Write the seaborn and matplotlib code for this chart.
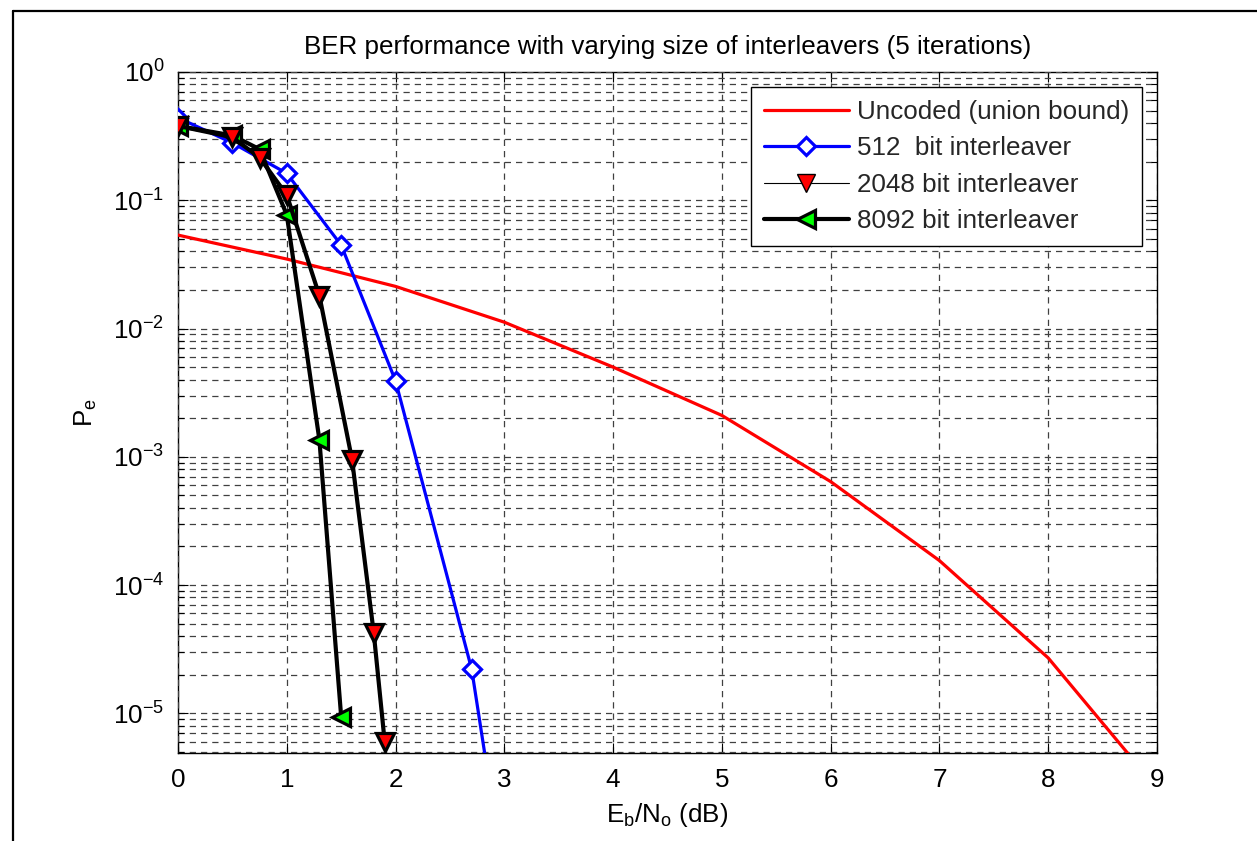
import numpy as np
import matplotlib
matplotlib.use("Agg")
import matplotlib.pyplot as plt
import seaborn as sns
from matplotlib.lines import Line2D
from matplotlib.ticker import LogLocator, NullLocator, NullFormatter, FixedLocator, FuncFormatter

# ---------------- data ----------------
ebno_uncoded = [0, 1, 2, 3, 4, 5, 6, 7, 8, 9]
pe_uncoded = [0.0535, 0.0348, 0.0213, 0.0112, 0.0050, 0.0021, 6.4e-4, 1.55e-4, 2.7e-5, 2.6e-6]

ebno_512 = [0, 0.5, 1.0, 1.5, 2.0, 2.7, 3.0]
pe_512 = [0.44, 0.28, 0.162, 0.0447, 0.0039, 2.2e-5, 5e-7]

ebno_2048 = [0, 0.5, 0.75, 1.0, 1.3, 1.6, 1.8, 1.9]
pe_2048 = [0.38, 0.31, 0.215, 0.11, 0.018, 9.5e-4, 4.2e-5, 6.0e-6]

ebno_8092 = [0, 0.5, 0.75, 1.0, 1.3, 1.5]
pe_8092 = [0.38, 0.32, 0.25, 0.077, 1.35e-3, 9.4e-6]

labels = ["Uncoded (union bound)", "512  bit interleaver",
          "2048 bit interleaver", "8092 bit interleaver"]
title = "BER performance with varying size of interleavers (5 iterations)"
xticks = [0, 1, 2, 3, 4, 5, 6, 7, 8, 9]

# ---------------- style ----------------
sns.set_theme(style="ticks")
plt.rcParams["font.family"] = ["Liberation Sans", "DejaVu Sans"]
plt.rcParams["mathtext.fontset"] = "custom"
plt.rcParams["mathtext.rm"] = "Liberation Sans"
plt.rcParams["mathtext.it"] = "Liberation Sans"
plt.rcParams["mathtext.bf"] = "Liberation Sans:bold"
FS = 18.7

fig = plt.figure(figsize=(12.57, 8.41), dpi=100)
ax = fig.add_axes([178 / 1257, 1 - 753 / 841, (1157 - 178) / 1257, (753 - 72) / 841])
ax.set_facecolor("white")

ax.set_yscale("log")

sns.lineplot(x=ebno_uncoded, y=pe_uncoded, ax=ax, color="#ff0000", linewidth=2.3,
             sort=False, legend=False, zorder=3)
sns.lineplot(x=ebno_512, y=pe_512, ax=ax, color="#0000ff", linewidth=2.3,
             marker="D", markersize=9.5, markerfacecolor="white",
             markeredgecolor="#0000ff", markeredgewidth=2.3,
             sort=False, legend=False, zorder=4)
sns.lineplot(x=ebno_8092, y=pe_8092, ax=ax, color="black", linewidth=3.0,
             marker="<", markersize=12.5, markerfacecolor="#00ff00",
             markeredgecolor="black", markeredgewidth=2.3,
             sort=False, legend=False, zorder=5)
sns.lineplot(x=ebno_2048, y=pe_2048, ax=ax, color="black", linewidth=3.0,
             marker="v", markersize=12.5, markerfacecolor="#ff0000",
             markeredgecolor="black", markeredgewidth=2.3,
             sort=False, legend=False, zorder=6)

ax.set_xlim(0, 9)
ax.set_ylim(4.9e-6, 1)
ax.xaxis.set_major_locator(FixedLocator(xticks))
ax.xaxis.set_minor_locator(NullLocator())
ax.yaxis.set_major_locator(LogLocator(base=10, numticks=20))
ax.yaxis.set_major_formatter(FuncFormatter(
    lambda v, p: r"$\mathregular{10^{%d}}$" % int(round(np.log10(v)))))
ax.yaxis.set_minor_locator(LogLocator(base=10, subs=np.arange(2, 10), numticks=50))
ax.yaxis.set_minor_formatter(NullFormatter())

grid_kw = dict(color="0.25", linewidth=0.9, linestyle=(0, (5, 4)))
ax.grid(True, which="major", axis="both", **grid_kw)
ax.grid(True, which="minor", axis="y", **grid_kw)
ax.set_axisbelow(False)

for s in ax.spines.values():
    s.set_color("black")
    s.set_linewidth(1.0)
    s.set_visible(True)

ax.tick_params(which="both", direction="in", top=True, right=True,
               colors="black", labelsize=FS, width=0.8)
ax.tick_params(which="major", length=7)
ax.tick_params(axis="x", which="major", pad=11)
ax.tick_params(axis="y", which="major", pad=10)
ax.tick_params(which="minor", length=4)

ax.set_title(title, fontsize=FS, pad=13, color="black")
ax.set_xlabel(r"$\mathregular{E_b/N_o}$ (dB)", fontsize=FS, labelpad=6, color="black")
ax.set_ylabel(r"$\mathregular{P_e}$", fontsize=FS, labelpad=10, color="black")

handles = [
    Line2D([], [], color="#ff0000", linewidth=2.3),
    Line2D([], [], color="#0000ff", linewidth=2.3, marker="D", markersize=9.5,
           markerfacecolor="white", markeredgecolor="#0000ff", markeredgewidth=2.3),
    Line2D([], [], color="black", linewidth=0.8, marker="v", markersize=12.5,
           markerfacecolor="#ff0000", markeredgecolor="black", markeredgewidth=1.0),
    Line2D([], [], color="black", linewidth=3.0, marker="<", markersize=12.5,
           markerfacecolor="#00ff00", markeredgecolor="black", markeredgewidth=2.3),
]
leg = ax.legend(handles, labels, loc="upper right",
                bbox_to_anchor=(0.985, 0.978), fontsize=FS, frameon=True,
                fancybox=False, shadow=False, edgecolor="black", framealpha=1,
                handlelength=3.3, handletextpad=0.3, borderpad=0.5,
                labelspacing=0.48, borderaxespad=0)
leg.get_frame().set_linewidth(1.0)

# outer screenshot frame (left and top edges)
fig.add_artist(Line2D([12.5 / 1257, 12.5 / 1257], [0, 1 - 10.5 / 841],
                      transform=fig.transFigure, color="black", linewidth=1.6))
fig.add_artist(Line2D([12.5 / 1257, 1], [1 - 10.5 / 841, 1 - 10.5 / 841],
                      transform=fig.transFigure, color="black", linewidth=1.6))

fig.savefig("out.png", dpi=100, facecolor="white")
